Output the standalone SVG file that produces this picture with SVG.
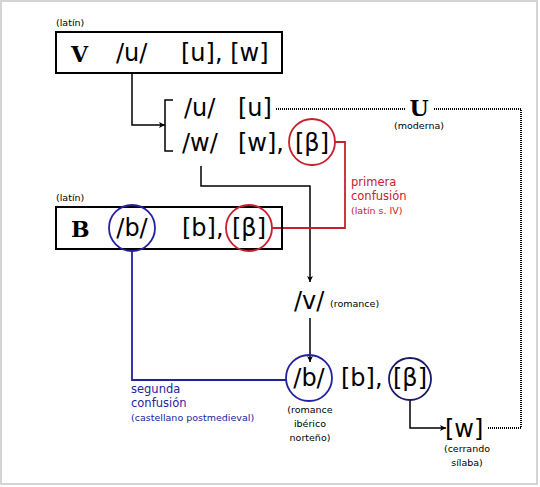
<svg xmlns="http://www.w3.org/2000/svg" width="540" height="487" viewBox="0 0 540 487">
<defs>
<style>
.big{font-family:"DejaVu Sans","Liberation Sans",sans-serif;font-size:24px;fill:#000}
.sm{font-family:"DejaVu Sans","Liberation Sans",sans-serif;font-size:9.5px;fill:#000}
.lab{font-family:"DejaVu Sans","Liberation Sans",sans-serif;font-size:11.5px}
.let{font-family:"DejaVu Serif","Liberation Serif",serif;font-size:22px;font-weight:bold;fill:#000}
.box{fill:none;stroke:#000;stroke-width:2}
.conn{fill:none;stroke:#000;stroke-width:1.5}
.dot{fill:none;stroke:#000;stroke-width:2;stroke-dasharray:1 1}
.red{fill:none;stroke:#c8202e;stroke-width:1.8}
.blue{fill:none;stroke:#2323a0;stroke-width:1.8}
.navy{fill:none;stroke:#1a1a66;stroke-width:1.8}
</style>
<marker id="ah" viewBox="0 0 10 10" refX="10" refY="5" markerWidth="6" markerHeight="6" orient="auto" markerUnits="userSpaceOnUse">
<path d="M0,0 L10,5 L0,10 L2.5,5 z" fill="#000"/>
</marker>
</defs>
<rect x="1" y="1" width="536" height="483" fill="#fff" stroke="#d4d4d4" stroke-width="2"/>

<g id="connectors">
<path class="conn" d="M132,73 V125 H165" marker-end="url(#ah)"/>
<path class="conn" d="M173,100 H165 V151 H173"/>
<path class="conn" d="M201,166 V186 H310 V282" marker-end="url(#ah)"/>
<path class="conn" d="M310,318 V362" marker-end="url(#ah)"/>
<path class="conn" d="M410,400 V428 H446" marker-end="url(#ah)"/>
<path class="dot" d="M276,109 H405"/>
<path class="dot" d="M434,109 H521 V428 H487"/>
<path class="red" d="M335,142 H345 V228 H272"/>
<path class="blue" d="M132,251 V380 H286"/>
</g>

<g id="node-V">
<text class="sm" x="56" y="26">(latín)</text>
<rect class="box" x="56" y="32" width="226" height="41"/>
<text class="let" x="71" y="62">V</text>
<text class="big" x="116" y="61">/u/</text>
<text class="big" x="181" y="61">[u], [w]</text>
</g>

<g id="node-uw">
<text class="big" x="184" y="116">/u/</text>
<text class="big" x="238" y="116">[u]</text>
<text class="big" x="182" y="151">/w/</text>
<text class="big" x="238" y="151">[w],</text>
<text class="big" x="312" y="151" text-anchor="middle">[β]</text>
<circle class="red" cx="312" cy="142" r="23"/>
</g>

<g id="node-U">
<text class="let" x="419" y="116" text-anchor="middle">U</text>
<text class="sm" x="419" y="129" text-anchor="middle">(moderna)</text>
</g>

<g id="label-primera">
<text class="lab" x="351" y="186" fill="#c8202e">primera</text>
<text class="lab" x="351" y="200" fill="#c8202e">confusión</text>
<text class="sm" x="351" y="214" style="fill:#c8202e">(latín s. IV)</text>
</g>

<g id="node-B">
<text class="sm" x="56" y="201">(latín)</text>
<rect class="box" x="56" y="207" width="226" height="42"/>
<text class="let" x="71" y="237">B</text>
<text class="big" x="132" y="236" text-anchor="middle">/b/</text>
<circle class="blue" cx="132" cy="228" r="23"/>
<text class="big" x="182" y="236">[b],</text>
<text class="big" x="249" y="236" text-anchor="middle">[β]</text>
<circle class="red" cx="249" cy="228" r="23"/>
</g>

<g id="node-v">
<text class="big" x="294" y="309">/v/</text>
<text class="sm" x="330" y="307">(romance)</text>
</g>

<g id="label-segunda">
<text class="lab" x="131" y="393" fill="#2323a0">segunda</text>
<text class="lab" x="131" y="407" fill="#2323a0">confusión</text>
<text class="sm" x="131" y="421" style="fill:#2323a0">(castellano postmedieval)</text>
</g>

<g id="node-b2">
<text class="big" x="309" y="386" text-anchor="middle">/b/</text>
<circle class="blue" cx="309" cy="378" r="23"/>
<text class="big" x="341" y="386">[b],</text>
<text class="big" x="410" y="386" text-anchor="middle">[β]</text>
<circle class="navy" cx="410" cy="379" r="21"/>
<text class="sm" x="310" y="413" text-anchor="middle">(romance</text>
<text class="sm" x="310" y="427" text-anchor="middle">ibérico</text>
<text class="sm" x="310" y="441" text-anchor="middle">norteño)</text>
</g>

<g id="node-w">
<text class="big" x="445" y="437">[w]</text>
<text class="sm" x="467" y="452" text-anchor="middle">(cerrando</text>
<text class="sm" x="467" y="466" text-anchor="middle">sílaba)</text>
</g>
</svg>
